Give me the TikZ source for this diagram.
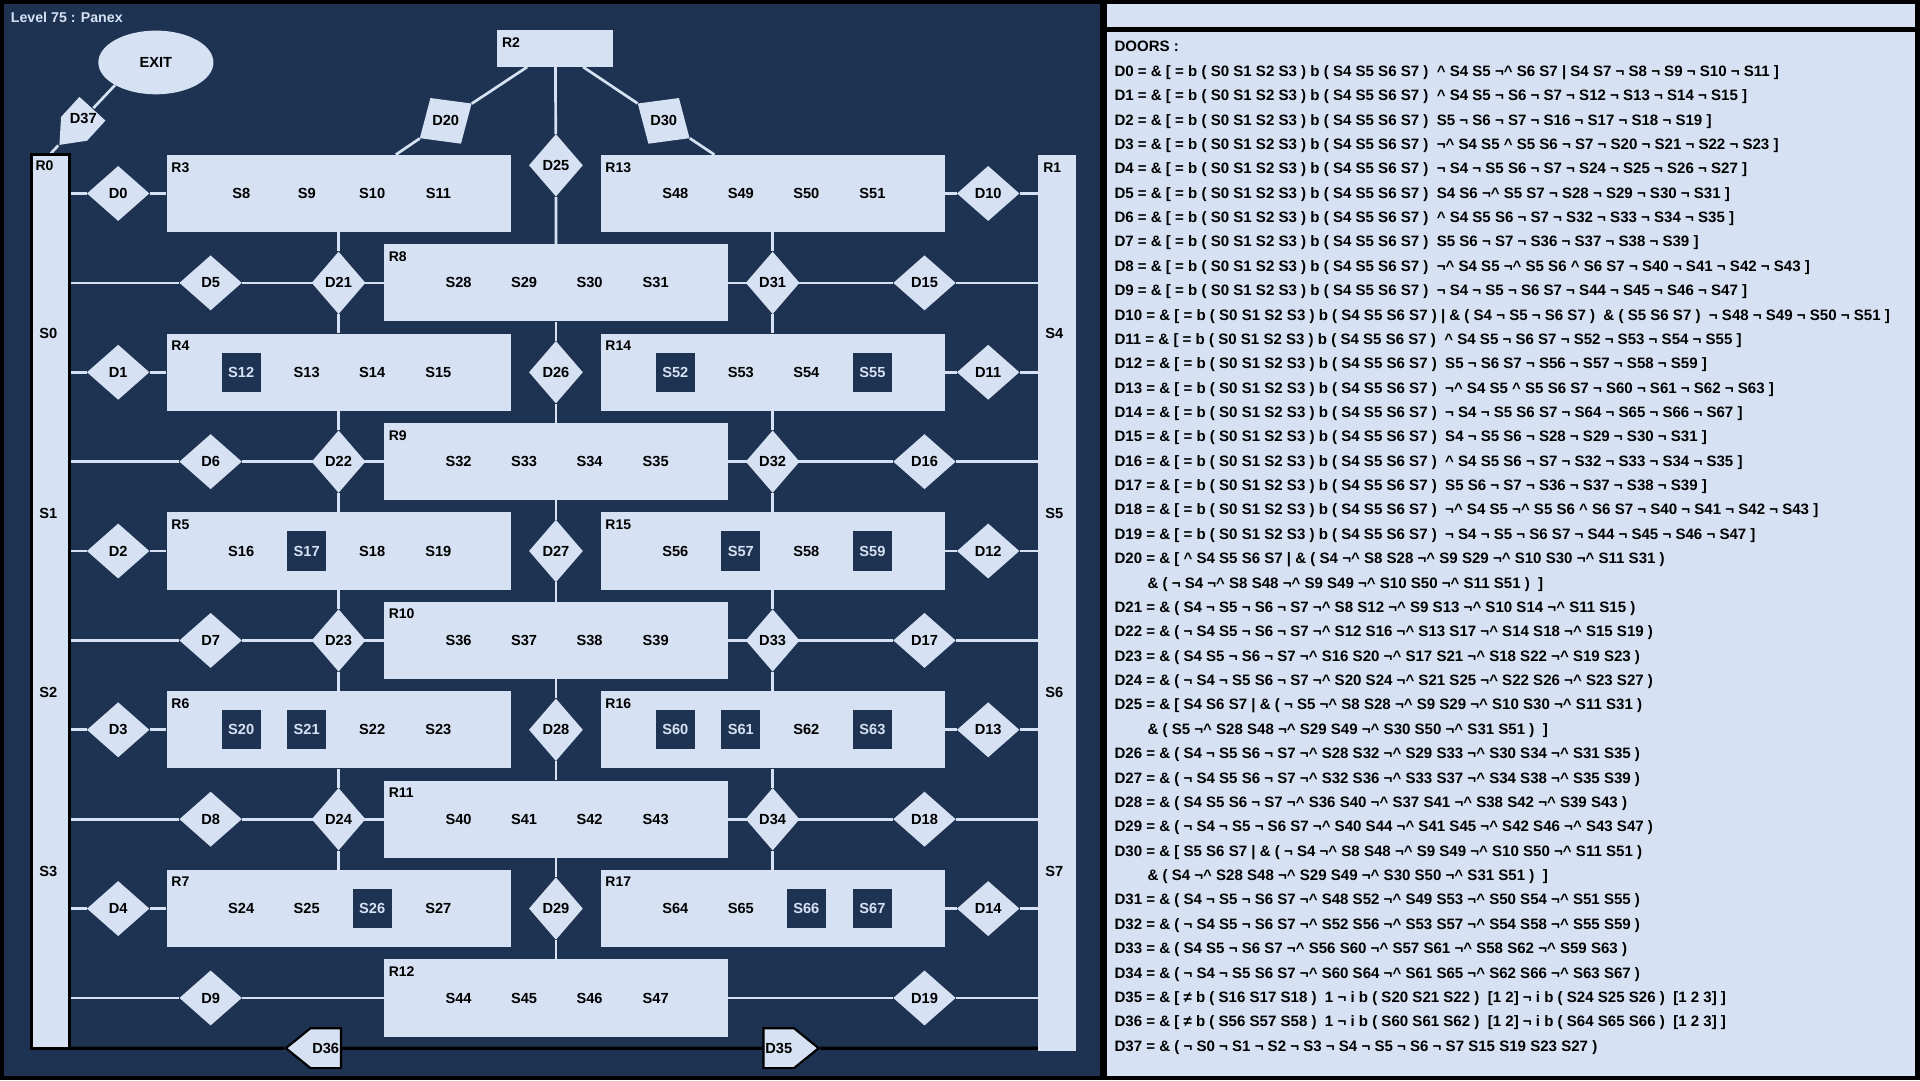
\documentclass[tikz,border=0pt]{standalone}
\usepackage{fontspec}
\setmainfont{Liberation Sans}
\usetikzlibrary{shapes.geometric, shapes.symbols, positioning}
\definecolor{latar}{RGB}{30,50,82}
\definecolor{terang}{RGB}{214,226,243}
\pgfdeclarelayer{background}
\pgfsetlayers{background,main}
\newcommand{\crt}{\textasciicircum}

\begin{document}
\begin{tikzpicture}[x=0.04cm, y=-0.04cm,
    font=\bfseries\fontsize{13.6}{16}\selectfont,
    ruang/.style={fill=terang, inner sep=0pt, minimum width=11.24cm, minimum height=2.52cm},
    ruangtegak/.style={ruang, minimum width=1.24cm, minimum height=29.2cm},
    nama/.style={anchor=north west, inner sep=0pt, xshift=0.16cm, yshift=-0.24cm,
      font=\bfseries\fontsize{13}{15}\selectfont},
    isi/.style={inner sep=0pt},
    gelap/.style={fill=latar, text=terang, minimum size=1.28cm, inner sep=0pt},
    pintu/.style={diamond, fill=terang, inner sep=0pt, minimum width=2.04cm, minimum height=1.8cm},
    pintutegak/.style={pintu, minimum width=1.76cm, minimum height=2.04cm},
    satuarah/.style={signal, fill=terang, draw=black, line width=2pt, inner sep=0pt,
      signal pointer angle=78, minimum width=1.8cm, minimum height=1.3cm},
    jalur/.style={draw=terang, line width=2.5pt},
    jalurhitam/.style={draw=black, line width=3pt}
  ]
  \useasboundingbox (0,0) rectangle (1568,882);

  \node[anchor=base west, inner sep=0pt, text=terang, font=\bfseries\fontsize{13.2}{15}\selectfont]
    (judul) at (8.7,18.5) {Level 75 : Panex};

  % ruang tepi dan atas
  \node[ruangtegak, draw=black, line width=2.6pt] (R0) at (41.5,491.5) {};
  \node[ruangtegak, minimum height=29.24cm] (R1) at (863.5,492.5) {};
  \node[ruang, minimum width=3.8cm, minimum height=1.2cm] (R2) at (453.5,39.5) {};
  \node[ellipse, fill=terang, inner sep=0pt, minimum width=3.76cm, minimum height=2.08cm]
    (EXIT) at (127.3,51) {EXIT};
  \node[nama] (tR0) at (R0.north west) {R0};
  \node[nama] (tR1) at (R1.north west) {R1};
  \node[nama] (tR2) at (R2.north west) {R2};
  \node[isi] (S0) at (39.5,272.5) {S0};
  \node[isi] (S1) at (39.5,419) {S1};
  \node[isi] (S2) at (39.5,565.5) {S2};
  \node[isi] (S3) at (39.5,712) {S3};
  \node[isi] (S4) at (861,272.5) {S4};
  \node[isi] (S5) at (861,419) {S5};
  \node[isi] (S6) at (861,565.5) {S6};
  \node[isi] (S7) at (861,712) {S7};

  % kolom kiri
  \node[ruang] (R3) at (276.5,158) {};
  \node[ruang] (R4) at (276.5,304) {};
  \node[ruang] (R5) at (276.5,450) {};
  \node[ruang] (R6) at (276.5,596) {};
  \node[ruang] (R7) at (276.5,742) {};
  \node[nama] (tR3) at (R3.north west) {R3};
  \node[nama] (tR4) at (R4.north west) {R4};
  \node[nama] (tR5) at (R5.north west) {R5};
  \node[nama] (tR6) at (R6.north west) {R6};
  \node[nama] (tR7) at (R7.north west) {R7};
  \node[isi] (S8) at (197,158) {S8};     \node[isi] (S9) at (250.5,158) {S9};
  \node[isi] (S10) at (304,158) {S10};   \node[isi] (S11) at (358,158) {S11};
  \node[gelap] (S12) at (197,304) {S12}; \node[isi] (S13) at (250.5,304) {S13};
  \node[isi] (S14) at (304,304) {S14};   \node[isi] (S15) at (358,304) {S15};
  \node[isi] (S16) at (197,450) {S16};   \node[gelap] (S17) at (250.5,450) {S17};
  \node[isi] (S18) at (304,450) {S18};   \node[isi] (S19) at (358,450) {S19};
  \node[gelap] (S20) at (197,596) {S20}; \node[gelap] (S21) at (250.5,596) {S21};
  \node[isi] (S22) at (304,596) {S22};   \node[isi] (S23) at (358,596) {S23};
  \node[isi] (S24) at (197,742) {S24};   \node[isi] (S25) at (250.5,742) {S25};
  \node[gelap] (S26) at (304,742) {S26}; \node[isi] (S27) at (358,742) {S27};

  % kolom tengah
  \node[ruang] (R8) at (454,231) {};
  \node[ruang] (R9) at (454,377) {};
  \node[ruang] (R10) at (454,523) {};
  \node[ruang] (R11) at (454,669) {};
  \node[ruang] (R12) at (454,815) {};
  \node[nama] (tR8) at (R8.north west) {R8};
  \node[nama] (tR9) at (R9.north west) {R9};
  \node[nama] (tR10) at (R10.north west) {R10};
  \node[nama] (tR11) at (R11.north west) {R11};
  \node[nama] (tR12) at (R12.north west) {R12};
  \node[isi] (S28) at (374.5,231) {S28}; \node[isi] (S29) at (428,231) {S29};
  \node[isi] (S30) at (481.5,231) {S30}; \node[isi] (S31) at (535.5,231) {S31};
  \node[isi] (S32) at (374.5,377) {S32}; \node[isi] (S33) at (428,377) {S33};
  \node[isi] (S34) at (481.5,377) {S34}; \node[isi] (S35) at (535.5,377) {S35};
  \node[isi] (S36) at (374.5,523) {S36}; \node[isi] (S37) at (428,523) {S37};
  \node[isi] (S38) at (481.5,523) {S38}; \node[isi] (S39) at (535.5,523) {S39};
  \node[isi] (S40) at (374.5,669) {S40}; \node[isi] (S41) at (428,669) {S41};
  \node[isi] (S42) at (481.5,669) {S42}; \node[isi] (S43) at (535.5,669) {S43};
  \node[isi] (S44) at (374.5,815) {S44}; \node[isi] (S45) at (428,815) {S45};
  \node[isi] (S46) at (481.5,815) {S46}; \node[isi] (S47) at (535.5,815) {S47};

  % kolom kanan
  \node[ruang] (R13) at (631,158) {};
  \node[ruang] (R14) at (631,304) {};
  \node[ruang] (R15) at (631,450) {};
  \node[ruang] (R16) at (631,596) {};
  \node[ruang] (R17) at (631,742) {};
  \node[nama] (tR13) at (R13.north west) {R13};
  \node[nama] (tR14) at (R14.north west) {R14};
  \node[nama] (tR15) at (R15.north west) {R15};
  \node[nama] (tR16) at (R16.north west) {R16};
  \node[nama] (tR17) at (R17.north west) {R17};
  \node[isi] (S48) at (551.5,158) {S48};   \node[isi] (S49) at (605,158) {S49};
  \node[isi] (S50) at (658.5,158) {S50};   \node[isi] (S51) at (712.5,158) {S51};
  \node[gelap] (S52) at (551.5,304) {S52}; \node[isi] (S53) at (605,304) {S53};
  \node[isi] (S54) at (658.5,304) {S54};   \node[gelap] (S55) at (712.5,304) {S55};
  \node[isi] (S56) at (551.5,450) {S56};   \node[gelap] (S57) at (605,450) {S57};
  \node[isi] (S58) at (658.5,450) {S58};   \node[gelap] (S59) at (712.5,450) {S59};
  \node[gelap] (S60) at (551.5,596) {S60}; \node[gelap] (S61) at (605,596) {S61};
  \node[isi] (S62) at (658.5,596) {S62};   \node[gelap] (S63) at (712.5,596) {S63};
  \node[isi] (S64) at (551.5,742) {S64};   \node[isi] (S65) at (605,742) {S65};
  \node[gelap] (S66) at (658.5,742) {S66}; \node[gelap] (S67) at (712.5,742) {S67};

  % pintu
  \node[pintu] (D0) at (96.5,158) {D0};
  \node[pintu] (D1) at (96.5,304) {D1};
  \node[pintu] (D2) at (96.5,450) {D2};
  \node[pintu] (D3) at (96.5,596) {D3};
  \node[pintu] (D4) at (96.5,742) {D4};
  \node[pintu] (D5) at (172,231) {D5};
  \node[pintu] (D6) at (172,377) {D6};
  \node[pintu] (D7) at (172,523) {D7};
  \node[pintu] (D8) at (172,669) {D8};
  \node[pintu] (D9) at (172,815) {D9};
  \node[pintu] (D10) at (807,158) {D10};
  \node[pintu] (D11) at (807,304) {D11};
  \node[pintu] (D12) at (807,450) {D12};
  \node[pintu] (D13) at (807,596) {D13};
  \node[pintu] (D14) at (807,742) {D14};
  \node[pintu] (D15) at (755,231) {D15};
  \node[pintu] (D16) at (755,377) {D16};
  \node[pintu] (D17) at (755,523) {D17};
  \node[pintu] (D18) at (755,669) {D18};
  \node[pintu] (D19) at (755,815) {D19};
  \node[pintutegak] (D21) at (276.5,231) {D21};
  \node[pintutegak] (D22) at (276.5,377) {D22};
  \node[pintutegak] (D23) at (276.5,523) {D23};
  \node[pintutegak] (D24) at (276.5,669) {D24};
  \node[pintutegak] (D25) at (454,135) {D25};
  \node[pintutegak] (D26) at (454,304) {D26};
  \node[pintutegak] (D27) at (454,450) {D27};
  \node[pintutegak] (D28) at (454,596) {D28};
  \node[pintutegak] (D29) at (454,742) {D29};
  \node[pintutegak] (D31) at (631,231) {D31};
  \node[pintutegak] (D32) at (631,377) {D32};
  \node[pintutegak] (D33) at (631,523) {D33};
  \node[pintutegak] (D34) at (631,669) {D34};
  \node[pintu, rotate=33.8] (D20) at (364,98.7) {};
  \node[isi] (tD20) at (D20) {D20};
  \node[pintu, rotate=-33.8] (D30) at (542,98.7) {};
  \node[isi] (tD30) at (D30) {D30};
  \node[satuarah, draw=none, signal to=west, rotate=47.6, minimum width=1.6cm,
    minimum height=1.15cm] (D37) at (68,97) {};
  \node[isi] (tD37) at (D37) {D37};
  \node[satuarah, signal to=west] (D36) at (266,856) {D36};
  \node[satuarah, signal to=east] (D35) at (636,856) {D35};

  % daftar pintu
  \node[anchor=north west, inner sep=0pt, align=left,
    font=\bfseries\fontsize{14}{22.65}\selectfont] (daftar) at (910,33.6) {%
    DOORS :\\
    D0 = \& [ = b ( S0 S1 S2 S3 ) b ( S4 S5 S6 S7 )~ \crt{} S4 S5 ¬\crt{} S6 S7 | S4 S7 ¬ S8 ¬ S9 ¬ S10 ¬ S11 ]\\
    D1 = \& [ = b ( S0 S1 S2 S3 ) b ( S4 S5 S6 S7 )~ \crt{} S4 S5 ¬ S6 ¬ S7 ¬ S12 ¬ S13 ¬ S14 ¬ S15 ]\\
    D2 = \& [ = b ( S0 S1 S2 S3 ) b ( S4 S5 S6 S7 )~ S5 ¬ S6 ¬ S7 ¬ S16 ¬ S17 ¬ S18 ¬ S19 ]\\
    D3 = \& [ = b ( S0 S1 S2 S3 ) b ( S4 S5 S6 S7 )~ ¬\crt{} S4 S5 \crt{} S5 S6 ¬ S7 ¬ S20 ¬ S21 ¬ S22 ¬ S23 ]\\
    D4 = \& [ = b ( S0 S1 S2 S3 ) b ( S4 S5 S6 S7 )~ ¬ S4 ¬ S5 S6 ¬ S7 ¬ S24 ¬ S25 ¬ S26 ¬ S27 ]\\
    D5 = \& [ = b ( S0 S1 S2 S3 ) b ( S4 S5 S6 S7 )~ S4 S6 ¬\crt{} S5 S7 ¬ S28 ¬ S29 ¬ S30 ¬ S31 ]\\
    D6 = \& [ = b ( S0 S1 S2 S3 ) b ( S4 S5 S6 S7 )~ \crt{} S4 S5 S6 ¬ S7 ¬ S32 ¬ S33 ¬ S34 ¬ S35 ]\\
    D7 = \& [ = b ( S0 S1 S2 S3 ) b ( S4 S5 S6 S7 )~ S5 S6 ¬ S7 ¬ S36 ¬ S37 ¬ S38 ¬ S39 ]\\
    D8 = \& [ = b ( S0 S1 S2 S3 ) b ( S4 S5 S6 S7 )~ ¬\crt{} S4 S5 ¬\crt{} S5 S6 \crt{} S6 S7 ¬ S40 ¬ S41 ¬ S42 ¬ S43 ]\\
    D9 = \& [ = b ( S0 S1 S2 S3 ) b ( S4 S5 S6 S7 )~ ¬ S4 ¬ S5 ¬ S6 S7 ¬ S44 ¬ S45 ¬ S46 ¬ S47 ]\\
    D10 = \& [ = b ( S0 S1 S2 S3 ) b ( S4 S5 S6 S7 ) | \& ( S4 ¬ S5 ¬ S6 S7 )~ \& ( S5 S6 S7 )~ ¬ S48 ¬ S49 ¬ S50 ¬ S51 ]\\
    D11 = \& [ = b ( S0 S1 S2 S3 ) b ( S4 S5 S6 S7 )~ \crt{} S4 S5 ¬ S6 S7 ¬ S52 ¬ S53 ¬ S54 ¬ S55 ]\\
    D12 = \& [ = b ( S0 S1 S2 S3 ) b ( S4 S5 S6 S7 )~ S5 ¬ S6 S7 ¬ S56 ¬ S57 ¬ S58 ¬ S59 ]\\
    D13 = \& [ = b ( S0 S1 S2 S3 ) b ( S4 S5 S6 S7 )~ ¬\crt{} S4 S5 \crt{} S5 S6 S7 ¬ S60 ¬ S61 ¬ S62 ¬ S63 ]\\
    D14 = \& [ = b ( S0 S1 S2 S3 ) b ( S4 S5 S6 S7 )~ ¬ S4 ¬ S5 S6 S7 ¬ S64 ¬ S65 ¬ S66 ¬ S67 ]\\
    D15 = \& [ = b ( S0 S1 S2 S3 ) b ( S4 S5 S6 S7 )~ S4 ¬ S5 S6 ¬ S28 ¬ S29 ¬ S30 ¬ S31 ]\\
    D16 = \& [ = b ( S0 S1 S2 S3 ) b ( S4 S5 S6 S7 )~ \crt{} S4 S5 S6 ¬ S7 ¬ S32 ¬ S33 ¬ S34 ¬ S35 ]\\
    D17 = \& [ = b ( S0 S1 S2 S3 ) b ( S4 S5 S6 S7 )~ S5 S6 ¬ S7 ¬ S36 ¬ S37 ¬ S38 ¬ S39 ]\\
    D18 = \& [ = b ( S0 S1 S2 S3 ) b ( S4 S5 S6 S7 )~ ¬\crt{} S4 S5 ¬\crt{} S5 S6 \crt{} S6 S7 ¬ S40 ¬ S41 ¬ S42 ¬ S43 ]\\
    D19 = \& [ = b ( S0 S1 S2 S3 ) b ( S4 S5 S6 S7 )~ ¬ S4 ¬ S5 ¬ S6 S7 ¬ S44 ¬ S45 ¬ S46 ¬ S47 ]\\
    D20 = \& [ \crt{} S4 S5 S6 S7 | \& ( S4 ¬\crt{} S8 S28 ¬\crt{} S9 S29 ¬\crt{} S10 S30 ¬\crt{} S11 S31 )\\
    \hspace*{30.7pt}\& ( ¬ S4 ¬\crt{} S8 S48 ¬\crt{} S9 S49 ¬\crt{} S10 S50 ¬\crt{} S11 S51 )~ ]\\
    D21 = \& ( S4 ¬ S5 ¬ S6 ¬ S7 ¬\crt{} S8 S12 ¬\crt{} S9 S13 ¬\crt{} S10 S14 ¬\crt{} S11 S15 )\\
    D22 = \& ( ¬ S4 S5 ¬ S6 ¬ S7 ¬\crt{} S12 S16 ¬\crt{} S13 S17 ¬\crt{} S14 S18 ¬\crt{} S15 S19 )\\
    D23 = \& ( S4 S5 ¬ S6 ¬ S7 ¬\crt{} S16 S20 ¬\crt{} S17 S21 ¬\crt{} S18 S22 ¬\crt{} S19 S23 )\\
    D24 = \& ( ¬ S4 ¬ S5 S6 ¬ S7 ¬\crt{} S20 S24 ¬\crt{} S21 S25 ¬\crt{} S22 S26 ¬\crt{} S23 S27 )\\
    D25 = \& [ S4 S6 S7 | \& ( ¬ S5 ¬\crt{} S8 S28 ¬\crt{} S9 S29 ¬\crt{} S10 S30 ¬\crt{} S11 S31 )\\
    \hspace*{30.7pt}\& ( S5 ¬\crt{} S28 S48 ¬\crt{} S29 S49 ¬\crt{} S30 S50 ¬\crt{} S31 S51 )~ ]\\
    D26 = \& ( S4 ¬ S5 S6 ¬ S7 ¬\crt{} S28 S32 ¬\crt{} S29 S33 ¬\crt{} S30 S34 ¬\crt{} S31 S35 )\\
    D27 = \& ( ¬ S4 S5 S6 ¬ S7 ¬\crt{} S32 S36 ¬\crt{} S33 S37 ¬\crt{} S34 S38 ¬\crt{} S35 S39 )\\
    D28 = \& ( S4 S5 S6 ¬ S7 ¬\crt{} S36 S40 ¬\crt{} S37 S41 ¬\crt{} S38 S42 ¬\crt{} S39 S43 )\\
    D29 = \& ( ¬ S4 ¬ S5 ¬ S6 S7 ¬\crt{} S40 S44 ¬\crt{} S41 S45 ¬\crt{} S42 S46 ¬\crt{} S43 S47 )\\
    D30 = \& [ S5 S6 S7 | \& ( ¬ S4 ¬\crt{} S8 S48 ¬\crt{} S9 S49 ¬\crt{} S10 S50 ¬\crt{} S11 S51 )\\
    \hspace*{30.7pt}\& ( S4 ¬\crt{} S28 S48 ¬\crt{} S29 S49 ¬\crt{} S30 S50 ¬\crt{} S31 S51 )~ ]\\
    D31 = \& ( S4 ¬ S5 ¬ S6 S7 ¬\crt{} S48 S52 ¬\crt{} S49 S53 ¬\crt{} S50 S54 ¬\crt{} S51 S55 )\\
    D32 = \& ( ¬ S4 S5 ¬ S6 S7 ¬\crt{} S52 S56 ¬\crt{} S53 S57 ¬\crt{} S54 S58 ¬\crt{} S55 S59 )\\
    D33 = \& ( S4 S5 ¬ S6 S7 ¬\crt{} S56 S60 ¬\crt{} S57 S61 ¬\crt{} S58 S62 ¬\crt{} S59 S63 )\\
    D34 = \& ( ¬ S4 ¬ S5 S6 S7 ¬\crt{} S60 S64 ¬\crt{} S61 S65 ¬\crt{} S62 S66 ¬\crt{} S63 S67 )\\
    D35 = \& [ ≠ b ( S16 S17 S18 )~ 1 ¬ i b ( S20 S21 S22 )~ [1 2] ¬ i b ( S24 S25 S26 )~ [1 2 3] ]\\
    D36 = \& [ ≠ b ( S56 S57 S58 )~ 1 ¬ i b ( S60 S61 S62 )~ [1 2] ¬ i b ( S64 S65 S66 )~ [1 2 3] ]\\
    D37 = \& ( ¬ S0 ¬ S1 ¬ S2 ¬ S3 ¬ S4 ¬ S5 ¬ S6 ¬ S7 S15 S19 S23 S27 )};

  \begin{pgfonlayer}{background}
    \fill[black] (0,0) rectangle (1568,882);
    \fill[latar] (3,3) rectangle (898,879);
    \fill[terang] (904,3) rectangle (1564,22);
    \fill[terang] (904,26) rectangle (1564,879);
    % jalur
    \draw[jalur] (R0.north) -- (D37) -- (EXIT.south west);
    \draw[jalur] (R2) -- (D20) -- (R3);
    \draw[jalur] (R2) -- (D30) -- (R13);
    \draw[jalur] (R2) -- (D25) -- (R8);
    \draw[jalur] (D0 -| R0.east) -- (D0) -- (R3);
    \draw[jalur] (D1 -| R0.east) -- (D1) -- (R4);
    \draw[jalur] (D2 -| R0.east) -- (D2) -- (R5);
    \draw[jalur] (D3 -| R0.east) -- (D3) -- (R6);
    \draw[jalur] (D4 -| R0.east) -- (D4) -- (R7);
    \draw[jalur] (D5 -| R0.east) -- (D5) -- (R8);
    \draw[jalur] (D6 -| R0.east) -- (D6) -- (R9);
    \draw[jalur] (D7 -| R0.east) -- (D7) -- (R10);
    \draw[jalur] (D8 -| R0.east) -- (D8) -- (R11);
    \draw[jalur] (D9 -| R0.east) -- (D9) -- (R12);
    \draw[jalur] (R13) -- (D10) -- (D10 -| R1.west);
    \draw[jalur] (R14) -- (D11) -- (D11 -| R1.west);
    \draw[jalur] (R15) -- (D12) -- (D12 -| R1.west);
    \draw[jalur] (R16) -- (D13) -- (D13 -| R1.west);
    \draw[jalur] (R17) -- (D14) -- (D14 -| R1.west);
    \draw[jalur] (R8) -- (D15) -- (D15 -| R1.west);
    \draw[jalur] (R9) -- (D16) -- (D16 -| R1.west);
    \draw[jalur] (R10) -- (D17) -- (D17 -| R1.west);
    \draw[jalur] (R11) -- (D18) -- (D18 -| R1.west);
    \draw[jalur] (R12) -- (D19) -- (D19 -| R1.west);
    \draw[jalur] (R3) -- (D21) -- (R4);
    \draw[jalur] (R4) -- (D22) -- (R5);
    \draw[jalur] (R5) -- (D23) -- (R6);
    \draw[jalur] (R6) -- (D24) -- (R7);
    \draw[jalur] (R8) -- (D26) -- (R9);
    \draw[jalur] (R9) -- (D27) -- (R10);
    \draw[jalur] (R10) -- (D28) -- (R11);
    \draw[jalur] (R11) -- (D29) -- (R12);
    \draw[jalur] (R13) -- (D31) -- (R14);
    \draw[jalur] (R14) -- (D32) -- (R15);
    \draw[jalur] (R15) -- (D33) -- (R16);
    \draw[jalur] (R16) -- (D34) -- (R17);
    \draw[jalurhitam] (D36 -| R0.west) -- (D36) -- (D35) -- (D35 -| R1.west);
  \end{pgfonlayer}
\end{tikzpicture}
\end{document}
